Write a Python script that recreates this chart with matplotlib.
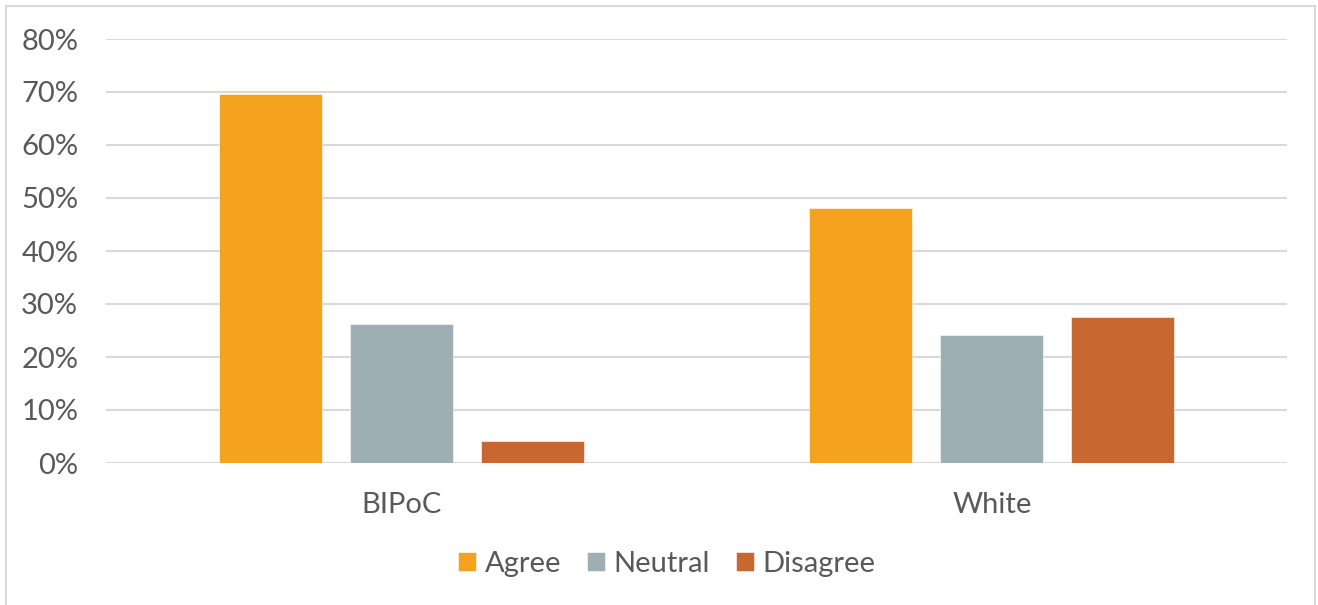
import numpy as np
import matplotlib
matplotlib.use("Agg")
import matplotlib.pyplot as plt
from matplotlib.patches import Rectangle
from matplotlib.ticker import PercentFormatter

groups = ["BIPoC", "White"]
responses = ["Agree", "Neutral", "Disagree"]
agree = [69.6, 48.1]
neutral = [26.2, 24.2]
disagree = [4.2, 27.6]
colors = ["#F5A31F", "#9EAFB4", "#C96731"]

plt.rcParams["font.family"] = ["Lato", "DejaVu Sans"]
text_color = "#595959"

W, H = 1318, 605
fig = plt.figure(figsize=(W / 100, H / 100), dpi=100)

# outer chart border
fig.patches.append(Rectangle((6 / W, -0.05), (1315 - 6) / W, 1.05 - 6 / H,
                             transform=fig.transFigure, fill=False,
                             edgecolor="#D9D9D9", linewidth=1.5))

ax = fig.add_axes([106 / W, 1 - 463 / H, (1287 - 106) / W, (463 - 39) / H])

x = np.arange(len(groups))
width = 0.1744
step = 0.2218
for i, (name, vals) in enumerate(zip(responses, [agree, neutral, disagree])):
    ax.bar(x + (i - 1) * step, vals, width, color=colors[i], label=name,
           zorder=3, edgecolor="white", linewidth=0.4)

ax.set_xlim(-0.5, 1.5)
ax.set_ylim(0, 80)
ax.set_yticks(np.arange(0, 81, 10))
ax.yaxis.set_major_formatter(PercentFormatter(decimals=0))
ax.grid(axis="y", color="#D9D9D9", linewidth=1.5, zorder=0)
for s in ax.spines.values():
    s.set_visible(False)
ax.tick_params(axis="both", length=0, labelsize=21, labelcolor=text_color)
ax.tick_params(axis="y", pad=20)
ax.tick_params(axis="x", pad=21)
ax.set_xticks(x)
ax.set_xticklabels(groups)

fig.legend(loc="center", bbox_to_anchor=(667 / W, 1 - 564 / H), ncol=3,
           frameon=False, fontsize=21, labelcolor=text_color,
           handlelength=0.6, handleheight=0.6, handletextpad=0.3,
           columnspacing=0.9)

fig.savefig("out.png", dpi=100, facecolor="white")
